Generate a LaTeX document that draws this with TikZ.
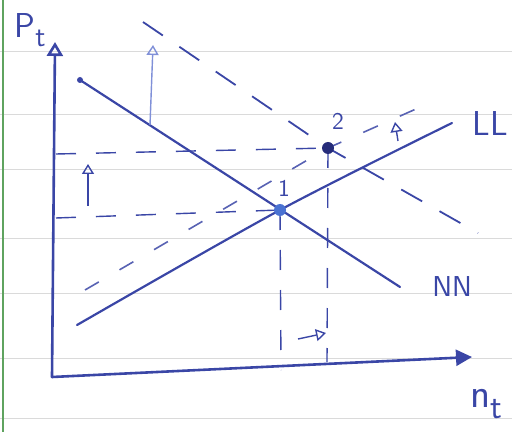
\documentclass[tikz,border=0pt]{standalone}
\usepackage{tikz}
\usetikzlibrary{arrows.meta}
\definecolor{Ink}{HTML}{3A46A6}
\definecolor{LInk}{HTML}{8090D8}
\definecolor{Dot1}{HTML}{4A72D2}
\definecolor{Dot2}{HTML}{262C7A}
\definecolor{Rule}{HTML}{DADADA}
\definecolor{Margin}{HTML}{5FA35F}

\begin{document}
\begin{tikzpicture}[x=0.5pt, y=-0.5pt,
  rule/.style={draw=Rule, line width=0.5pt},
  ax/.style={draw=Ink, line width=1.3pt, line cap=round},
  sched/.style={draw=Ink, line width=1.1pt, line cap=round},
  sched2/.style={draw=Ink, line width=0.9pt, dash pattern=on 12pt off 10pt},
  sched3/.style={draw=Ink!85, line width=0.8pt, dash pattern=on 8pt off 12pt},
  guide/.style={draw=Ink, line width=0.7pt, dash pattern=on 10pt off 10pt},
  push/.style={draw=LInk, line width=0.7pt, -{Triangle[open, length=5pt, width=6pt]}},
  dot/.style={circle, inner sep=0pt, minimum size=6pt},
  lbl/.style={text=Ink, font=\sffamily\large, inner sep=0pt},
]
\useasboundingbox (0,0) rectangle (512,432);
% ruled paper
\foreach \y in {52,115,170,238,293,358,418}
  \draw[rule] (0,\y) -- (512,\y);
\draw[draw=Margin, line width=0.8pt] (3,0) -- (3,432);

% axes
\coordinate (O) at (52,377);
\coordinate (ytop) at (55,42);
\coordinate (xend) at (472,357);
\draw[ax, -{Triangle[open, length=7pt, width=8pt]}] (O) -- (ytop);
\draw[ax, -{Triangle[length=8pt, width=8pt]}] (O) -- (xend);
\node[lbl, font=\sffamily\LARGE] (Pt) at (30,30) {P\raisebox{-0.6ex}{\Large t}};
\node[lbl, font=\sffamily\huge] (nt) at (486,404) {n\raisebox{-0.6ex}{\LARGE t}};

% equilibria
\coordinate (p1) at (280,210);
\coordinate (p2) at (328,148);

% schedules
\coordinate (nnA) at (80,80);
\coordinate (nnB) at (400,287);
\coordinate (llA) at (77,325);
\coordinate (llB) at (452,123);
\draw[sched] (nnA) -- (nnB);
\draw[sched] plot[smooth] coordinates {(llA) (p1) (llB)};
\fill[Ink] (nnA) circle (1.5pt);
\node[lbl, font=\sffamily\Large] (NN) at (452,287) {NN};
\node[lbl, font=\sffamily\LARGE] (LL) at (490,124) {LL};

% shifted schedules
\coordinate (nn2A) at (143,22);
\coordinate (nn2B) at (478,233);
\coordinate (ll2A) at (85,290);
\coordinate (ll2B) at (425,105);
\draw[sched2] (nn2A) -- (p2) -- (nn2B);
\draw[sched3] (ll2A) -- (p2) -- (ll2B);

% guides to the axes
\coordinate (h1) at (56,218);
\coordinate (h2) at (56,154);
\coordinate (v1) at (281,370);
\coordinate (v2) at (327,362);
\draw[guide] (h1) -- (p1);
\draw[guide] (h2) -- (p2);
\draw[guide] (p1) -- (v1);
\draw[guide] (p2) -- (v2);

% shifts
\coordinate (sA) at (150,125);
\coordinate (sB) at (153,45);
\coordinate (pA) at (88,206);
\coordinate (pB) at (88,164);
\coordinate (nA) at (298,339);
\coordinate (nB) at (326,333);
\coordinate (lA) at (398,141);
\coordinate (lB) at (395,122);
\draw[push] (sA) -- (sB);
\draw[push, draw=Ink] (pA) -- (pB);
\draw[push, draw=Ink] (nA) -- (nB);
\draw[push, draw=Ink] (lA) -- (lB);

\node[dot, fill=Dot1] (one) at (p1) {};
\node[dot, fill=Dot2] (two) at (p2) {};
\node[lbl] (l1) at (284,188) {1};
\node[lbl] (l2) at (338,121) {2};
\end{tikzpicture}
\end{document}
